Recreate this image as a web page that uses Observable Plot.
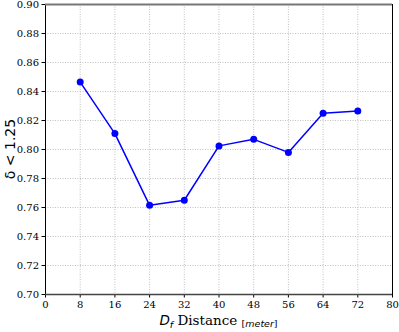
<!DOCTYPE html>
<html><head><meta charset="utf-8">
<script src="https://cdn.jsdelivr.net/npm/d3@7"></script>
<script src="https://cdn.jsdelivr.net/npm/@observablehq/plot@0.6"></script>
<style>body{margin:0;background:#fff;} svg{display:block;}</style>
</head><body><div id="chart"></div>
<script>
const distances = [8, 16, 24, 32, 40, 48, 56, 64, 72];
const deltaValues = [0.8465, 0.811, 0.7615, 0.765, 0.8025, 0.807, 0.798, 0.825, 0.8265];
const xTicks = [0, 8, 16, 24, 32, 40, 48, 56, 64, 72, 80];
const yTicks = [0.70, 0.72, 0.74, 0.76, 0.78, 0.80, 0.82, 0.84, 0.86, 0.88, 0.90];
const data = distances.map((d, i) => ({d, v: deltaValues[i]}));

const W = 399, H = 332, mL = 45, mR = 7, mT = 4, mB = 38;
const chart = Plot.plot({
  width: W, height: H,
  marginLeft: mL, marginRight: mR, marginTop: mT, marginBottom: mB,
  style: {fontFamily: "DejaVu Serif", fontSize: "10px", color: "#000", background: "#fff"},
  x: {domain: [0, 80], ticks: xTicks, tickFormat: d => d, tickSize: 3.5, label: null},
  y: {domain: [0.70, 0.90], ticks: yTicks, tickFormat: d3.format(".2f"), tickSize: 3.5, label: null},
  marks: [
    Plot.gridX(xTicks, {stroke: "#b0b0b0", strokeOpacity: 1, strokeDasharray: "1,1.5", strokeWidth: 0.8}),
    Plot.gridY(yTicks, {stroke: "#b0b0b0", strokeOpacity: 1, strokeDasharray: "1,1.5", strokeWidth: 0.8}),
    Plot.axisX(xTicks, {tickSize: 3.5, tickPadding: 3, fontSize: 10, tickFormat: d => d}),
    Plot.axisY(yTicks, {tickSize: 3.5, tickPadding: 3, fontSize: 10, tickFormat: d3.format(".2f")}),
    Plot.frame({stroke: "#000", strokeWidth: 1}),
    Plot.ruleY([0.90], {stroke: "#777", strokeWidth: 2}),
    Plot.ruleY([0.70], {stroke: "#444", strokeWidth: 1.5}),
    Plot.line(data, {x: "d", y: "v", stroke: "#0000ff", strokeWidth: 1.5}),
    Plot.dot(data, {x: "d", y: "v", fill: "#0000ff", r: 3.5})
  ]
});
document.getElementById("chart").appendChild(chart);

const svg = d3.select(chart);
// y label
svg.append("text")
  .attr("transform", `translate(11,${mT + (H - mT - mB) / 2}) rotate(-90)`)
  .attr("text-anchor", "middle")
  .attr("dominant-baseline", "middle")
  .attr("font-family", "DejaVu Sans")
  .attr("font-size", 14)
  .attr("fill", "#000")
  .text("δ < 1.25");
// x label
const xl = svg.append("text")
  .attr("x", mL + (W - mL - mR) / 2)
  .attr("y", 325)
  .attr("text-anchor", "middle")
  .attr("font-family", "DejaVu Serif")
  .attr("font-size", 13.5)
  .attr("fill", "#000");
xl.append("tspan").attr("font-family", "DejaVu Sans").attr("font-style", "italic").text("D");
xl.append("tspan").attr("font-family", "DejaVu Sans").attr("font-style", "italic").attr("font-size", 9.5).attr("dy", 3).text("f");
xl.append("tspan").attr("dy", -3).text(" Distance ");
xl.append("tspan").attr("font-family", "DejaVu Sans").attr("font-size", 9.5).attr("dy", 2).text("[");
xl.append("tspan").attr("font-family", "DejaVu Sans").attr("font-style", "italic").attr("font-size", 9.5).text("meter");
xl.append("tspan").attr("font-family", "DejaVu Sans").attr("font-size", 9.5).text("]");
</script>
</body></html>
